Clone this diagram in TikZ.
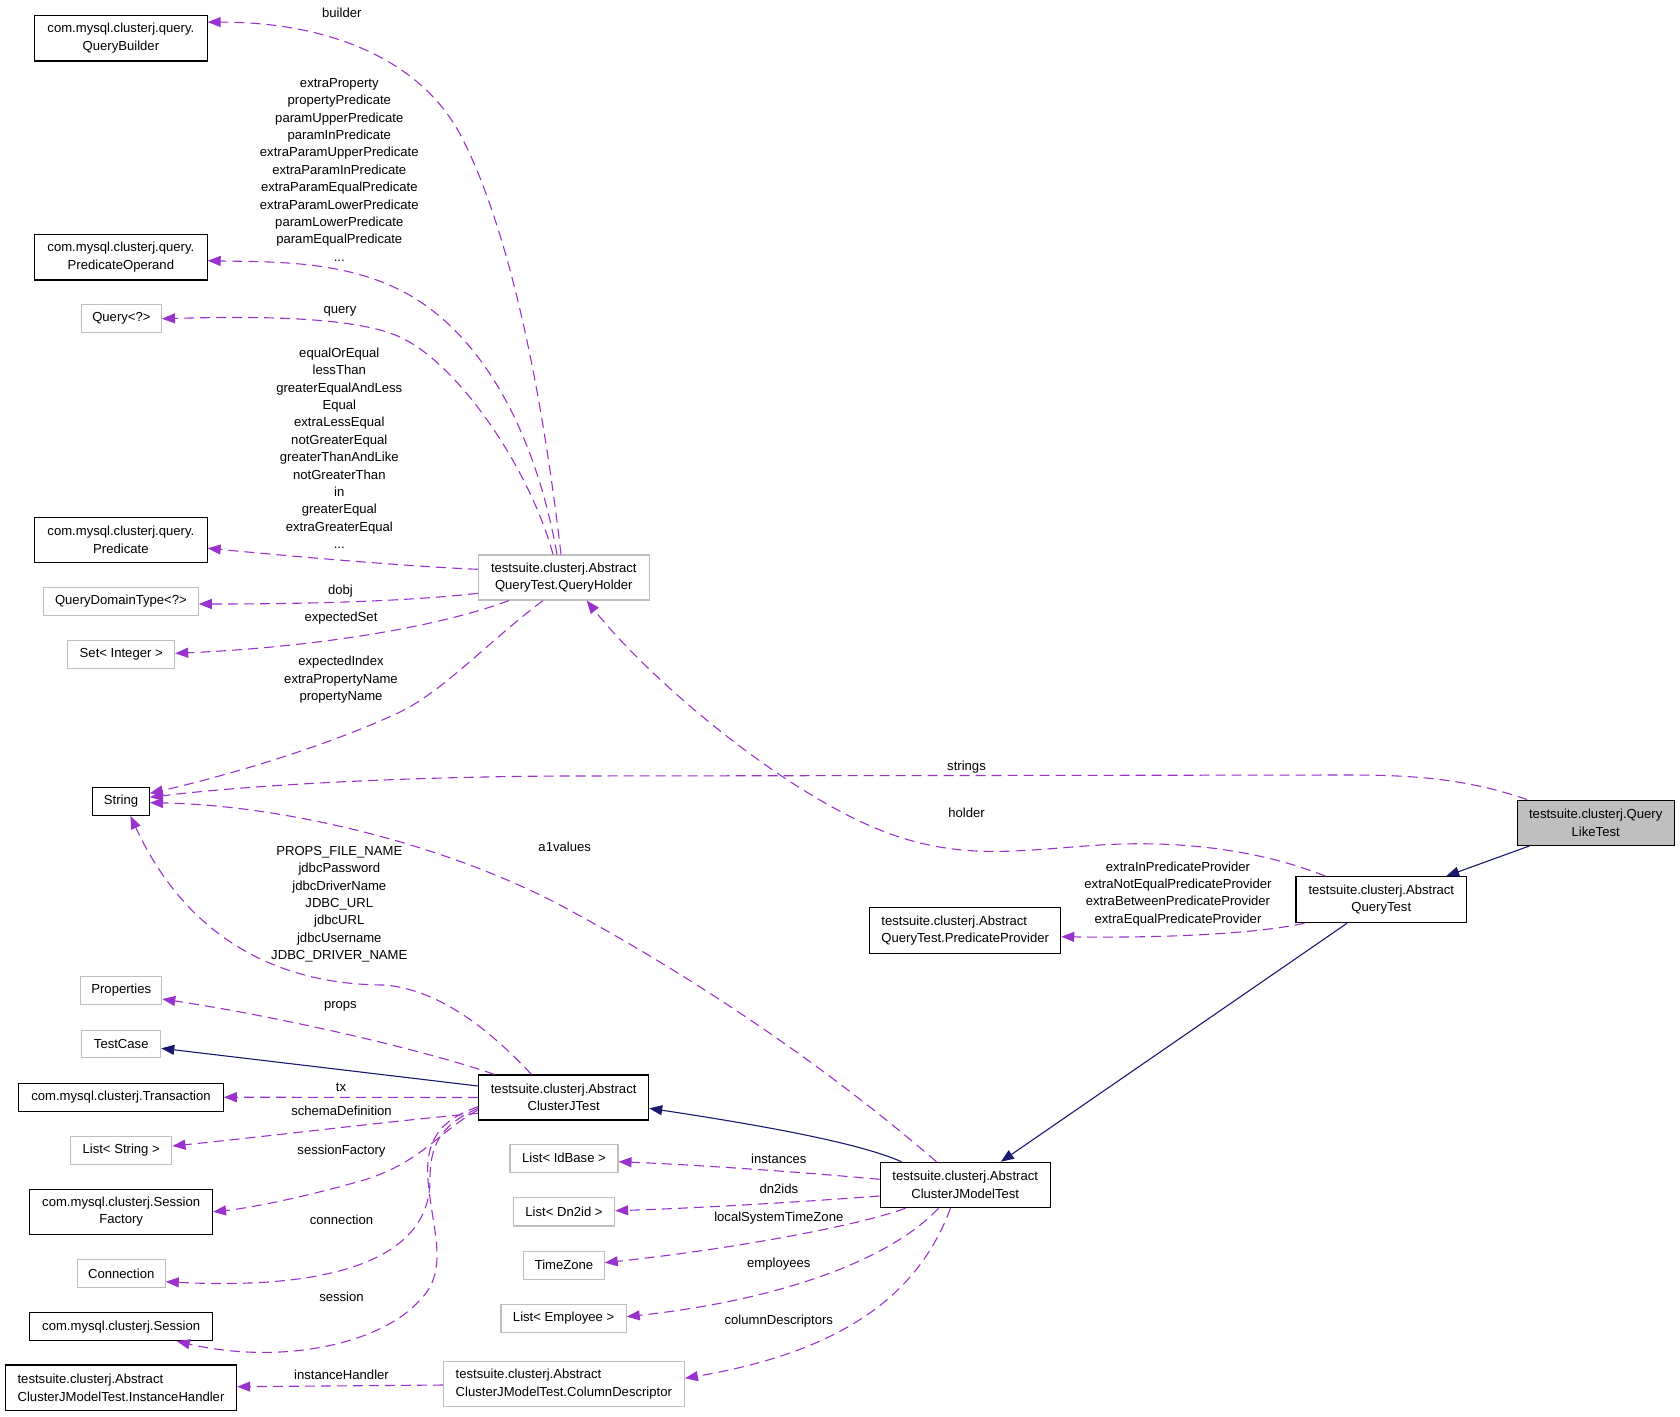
\documentclass[tikz,border=0pt]{standalone}
\usepackage{fontspec}
\setmainfont{Liberation Sans}
\usetikzlibrary{arrows.meta,calc}
\definecolor{purp}{HTML}{9A32CD}
\definecolor{navyc}{HTML}{191970}
\definecolor{lgray}{HTML}{BFBFBF}
\newcommand\lblfont{\fontsize{13.1}{17.4}\selectfont}
\tikzset{
  cls/.style={draw=black, line width=1.1pt, inner sep=0pt, align=center, font=\lblfont},
  ext/.style={draw=lgray, line width=1.1pt, inner sep=0pt, align=center, font=\lblfont},
  lbl/.style={inner sep=0pt, align=center, font=\lblfont},
  dep/.style={draw=purp, line width=1.1pt, dash pattern=on 10pt off 6pt, -{Triangle[length=13pt,width=10pt]}},
  inh/.style={draw=navyc, line width=1.1pt, -{Triangle[length=13pt,width=10pt]}}
}
\begin{document}
\begin{tikzpicture}[x=1pt,y=-1pt]
\useasboundingbox (0,0) rectangle (1680,1416);
% ---- nodes ----
\node[cls, minimum width=172.5pt, minimum height=45.3pt] (qb) at (120.9,38.3) {com.mysql.clusterj.query.\\QueryBuilder};
\node[cls, minimum width=172.5pt, minimum height=45.5pt] (po) at (120.9,257.2) {com.mysql.clusterj.query.\\PredicateOperand};
\node[ext, minimum width=80pt, minimum height=28pt] (qq) at (121.4,318.7) {Query<?>};
\node[cls, minimum width=172.5pt, minimum height=45.4pt] (pred) at (120.9,540) {com.mysql.clusterj.query.\\Predicate};
\node[ext, minimum width=154.6pt, minimum height=28pt] (qdt) at (120.9,601.3) {QueryDomainType<?>};
\node[ext, minimum width=106.7pt, minimum height=28pt] (si) at (121.25,654.7) {Set< Integer >};
\node[cls, minimum width=56.4pt, minimum height=28.3pt] (str) at (121.1,801.2) {String};
\node[ext, minimum width=81pt, minimum height=27.6pt] (prop) at (121.25,990.5) {Properties};
\node[ext, minimum width=79pt, minimum height=27.7pt] (tc) at (121.25,1043.9) {TestCase};
\node[cls, minimum width=204.5pt, minimum height=27.7pt] (tx) at (121,1097.2) {com.mysql.clusterj.Transaction};
\node[ext, minimum width=101.4pt, minimum height=27.6pt] (ls) at (121.2,1150.5) {List< String >};
\node[cls, minimum width=182.6pt, minimum height=45pt] (sf) at (121.2,1211.8) {com.mysql.clusterj.Session\\Factory};
\node[ext, minimum width=88pt, minimum height=28pt] (conn) at (121.2,1273.3) {Connection};
\node[cls, minimum width=182.6pt, minimum height=28pt] (sess) at (121.2,1326.7) {com.mysql.clusterj.Session};
\node[cls, minimum width=231.2pt, minimum height=45.7pt, align=left] (ih) at (121,1387.8) {testsuite.clusterj.Abstract\\ClusterJModelTest.InstanceHandler};
\node[ext, minimum width=171pt, minimum height=45pt] (qh) at (563.8,577.5) {testsuite.clusterj.Abstract\\QueryTest.QueryHolder};
\node[cls, minimum width=170pt, minimum height=45pt] (cjt) at (563.65,1097.5) {testsuite.clusterj.Abstract\\ClusterJTest};
\node[ext, minimum width=108pt, minimum height=28pt] (lid) at (564,1158.3) {List< IdBase >};
\node[ext, minimum width=101.2pt, minimum height=28.3pt] (ldn) at (564,1211.8) {List< Dn2id >};
\node[ext, minimum width=80.4pt, minimum height=28.3pt] (tz) at (564,1265.2) {TimeZone};
\node[ext, minimum width=125.2pt, minimum height=28pt] (lemp) at (563.6,1318.3) {List< Employee >};
\node[ext, minimum width=241pt, minimum height=45pt, align=left] (cd) at (563.85,1384.2) {testsuite.clusterj.Abstract\\ClusterJModelTest.ColumnDescriptor};
\node[cls, minimum width=191pt, minimum height=45.6pt, align=left] (pp) at (965.2,930.5) {testsuite.clusterj.Abstract\\QueryTest.PredicateProvider};
\node[cls, minimum width=170.7pt, minimum height=46pt] (qt) at (1381.3,899.7) {testsuite.clusterj.Abstract\\QueryTest};
\node[cls, minimum width=170.3pt, minimum height=45.4pt] (cjmt) at (965.2,1185) {testsuite.clusterj.Abstract\\ClusterJModelTest};
\node[cls, fill=lgray, minimum width=157.3pt, minimum height=45.3pt] (qlt) at (1595.7,822.7) {testsuite.clusterj.Query\\LikeTest};
% ---- labels ----
\node[lbl] (l1) at (341.8,12.7) {builder};
\node[lbl] (l2) at (339.3,169.7) {extraProperty\\propertyPredicate\\paramUpperPredicate\\paramInPredicate\\extraParamUpperPredicate\\extraParamInPredicate\\extraParamEqualPredicate\\extraParamLowerPredicate\\paramLowerPredicate\\paramEqualPredicate\\...};
\node[lbl] (l3) at (340,311) {query};
\node[lbl] (l4) at (339.3,448.3) {equalOrEqual\\lessThan\\greaterEqualAndLess\\Equal\\extraLessEqual\\notGreaterEqual\\greaterThanAndLike\\notGreaterThan\\in\\greaterEqual\\extraGreaterEqual\\...};
\node[lbl] (l5) at (340.4,590.7) {dobj};
\node[lbl] (l6) at (341,618.3) {expectedSet};
\node[lbl] (l7) at (341,679.7) {expectedIndex\\extraPropertyName\\propertyName};
\node[lbl] (l8) at (966.5,766.7) {strings};
\node[lbl] (l9) at (966.5,812.7) {holder};
\node[lbl] (l10) at (564.7,846.7) {a1values};
\node[lbl] (l11) at (339.3,904.3) {PROPS\_FILE\_NAME\\jdbcPassword\\jdbcDriverName\\JDBC\_URL\\jdbcURL\\jdbcUsername\\JDBC\_DRIVER\_NAME};
\node[lbl] (l12) at (340.4,1006.7) {props};
\node[lbl] (l13) at (1178,893.8) {extraInPredicateProvider\\extraNotEqualPredicateProvider\\extraBetweenPredicateProvider\\extraEqualPredicateProvider};
\node[lbl] (l14) at (341,1087.7) {tx};
\node[lbl] (l15) at (341.5,1110.7) {schemaDefinition};
\node[lbl] (l16) at (341.5,1150.7) {sessionFactory};
\node[lbl] (l17) at (341.5,1220) {connection};
\node[lbl] (l18) at (341.5,1296.7) {session};
\node[lbl] (l19) at (341.5,1375) {instanceHandler};
\node[lbl] (l20) at (778.8,1159) {instances};
\node[lbl] (l21) at (778.8,1188.3) {dn2ids};
\node[lbl] (l22) at (778.8,1218.3) {localSystemTimeZone};
\node[lbl] (l23) at (778.8,1264) {employees};
\node[lbl] (l24) at (778.8,1320.7) {columnDescriptors};
% ---- edges ----
\draw[dep] ($(qh.north)+(-2.8,0)$) .. controls (535,330) and (495,200) .. (460,134) .. controls (420,60) and (330,22) .. ($(qb.north east)+(0,7)$);
\draw[dep] ($(qh.north)+(-6.8,0)$) .. controls (535,430) and (480,330) .. (400,290) .. controls (340,260) and (270,262) .. ($(po.east)+(0,3.5)$);
\draw[dep] ($(qh.north)+(-10.8,0)$) .. controls (530,470) and (460,365) .. (400,337) .. controls (350,314) and (230,317) .. (qq.east);
\draw[dep] ($(qh.west)+(0,-8.2)$) .. controls (400,566) and (290,556) .. ($(pred.east)+(0,8.3)$);
\draw[dep] ($(qh.west)+(0,15.8)$) .. controls (420,600) and (330,604) .. ($(qdt.east)+(0,2.7)$);
\draw[dep] ($(qh.south)+(-54.8,0)$) .. controls (430,630) and (300,648) .. ($(si.east)+(0,-1.4)$);
\draw[dep] ($(qh.south)+(-20.8,0)$) .. controls (490,640) and (445,690) .. (400,712) .. controls (330,745) and (230,775) .. ($(str.east)+(0,-7.9)$);
\draw[dep] ($(qlt.north west)+(10.6,0)$) .. controls (1470,780) and (1420,775) .. (1350,775) -- (560,776) .. controls (400,777) and (250,785) .. ($(str.east)+(0,-3.9)$);
\draw[dep] ($(qt.north west)+(30,0)$) .. controls (1260,850) and (1180,840) .. (1100,845) .. controls (1020,850) and (960,862) .. (880,830) .. controls (780,790) and (650,680) .. ($(qh.south)+(22.9,0)$);
\draw[dep] ($(qt.south west)+(9,0)$) .. controls (1250,935) and (1150,938) .. ($(pp.east)+(0,6.2)$);
\draw[inh] ($(qlt.south west)+(13,0)$) -- ($(qt.north east)+(-21,0)$);
\draw[inh] ($(qt.south west)+(51.6,0)$) -- ($(cjmt.north west)+(121.4,0)$);
\draw[inh] ($(cjmt.north west)+(22,0)$) .. controls (860,1143) and (760,1125) .. ($(cjt.east)+(0,10.8)$);
\draw[inh] ($(cjt.west)+(0,-11.5)$) -- ($(tc.east)+(0,4.4)$);
\draw[dep] ($(cjmt.north west)+(57,0)$) .. controls (830,1070) and (700,980) .. (560,905) .. controls (440,842) and (280,805) .. ($(str.east)+(0,1.5)$);
\draw[dep] ($(cjt.north west)+(53.4,0)$) .. controls (490,1030) and (440,990) .. (385,985) .. controls (300,985) and (195,955) .. ($(str.south)+(9.3,0)$);
\draw[dep] ($(cjt.north west)+(16.4,0)$) .. controls (440,1055) and (300,1020) .. ($(prop.east)+(0,8.5)$);
\draw[dep] (cjt.west) -- (tx.east);
\draw[dep] ($(cjt.west)+(0,15.8)$) .. controls (400,1120) and (280,1135) .. ($(ls.east)+(0,-4.5)$);
\draw[dep] ($(cjt.west)+(0,12.5)$) .. controls (440,1130) and (420,1165) .. (357,1182) .. controls (300,1198) and (250,1208) .. (sf.east);
\draw[dep] ($(cjt.west)+(0,10.8)$) .. controls (440,1125) and (430,1145) .. (430,1180) .. controls (430,1260) and (330,1290) .. ($(conn.east)+(0,8.4)$);
\draw[dep] ($(cjt.west)+(0,9.2)$) .. controls (440,1120) and (425,1140) .. (428,1180) .. controls (432,1230) and (450,1270) .. (420,1300) .. controls (380,1345) and (280,1365) .. ($(sess.south east)+(-36.2,0)$);
\draw[dep] ($(cd.west)+(0,0.8)$) -- ($(ih.east)+(0,-1.1)$);
\draw[dep] ($(cjmt.west)+(0,-5.7)$) .. controls (800,1172) and (700,1165) .. ($(lid.east)+(0,3.4)$);
\draw[dep] ($(cjmt.west)+(0,11)$) .. controls (800,1202) and (700,1208) .. ($(ldn.east)+(0,-1.1)$);
\draw[dep] ($(cjmt.south west)+(26,0)$) .. controls (860,1225) and (740,1248) .. ($(tz.east)+(0,-2.5)$);
\draw[dep] ($(cjmt.south west)+(59,0)$) .. controls (890,1260) and (780,1300) .. ($(lemp.east)+(0,-1.6)$);
\draw[dep] ($(cjmt.south west)+(71,0)$) .. controls (920,1290) and (850,1350) .. ($(cd.east)+(0,-5.9)$);
\end{tikzpicture}
\end{document}
